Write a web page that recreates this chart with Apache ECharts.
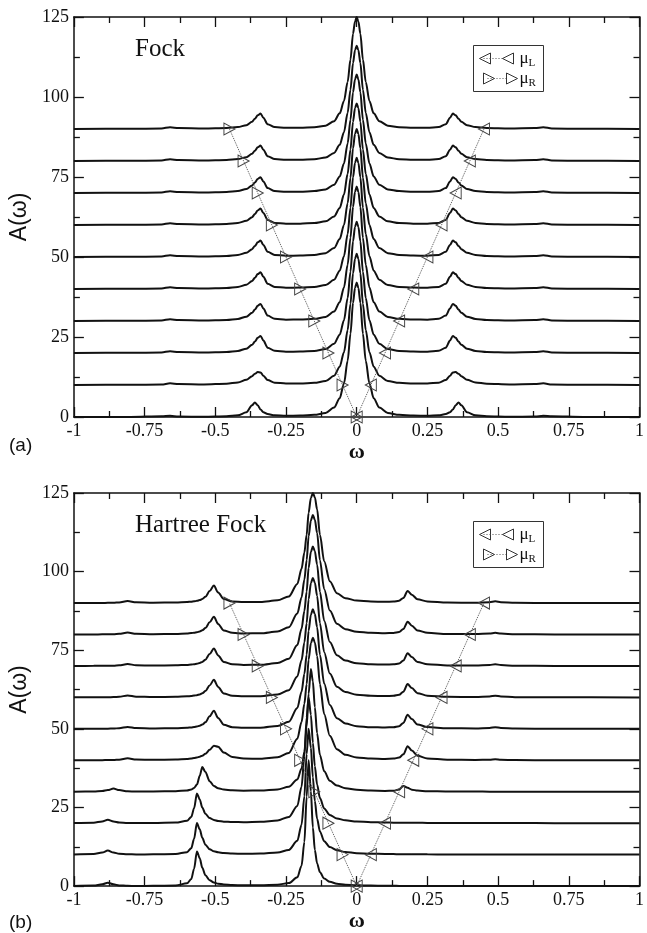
<!DOCTYPE html>
<html>
<head>
<meta charset="utf-8">
<title>A(ω) — Fock and Hartree Fock spectral functions</title>
<script src="https://cdn.jsdelivr.net/npm/echarts@6/dist/echarts.min.js"></script>
<style>
  html, body { margin: 0; padding: 0; background: #fff; }
  #chart { width: 647px; height: 933px; }
</style>
</head>
<body>
<div id="chart"></div>
<script>
// Bias offsets: each spectrum is lifted by its bias index (waterfall layout)
const offsets = [0, 10, 20, 30, 40, 50, 60, 70, 80, 90];

// Chemical potentials of the left / right leads for each bias
const muL = [0, 0.05, 0.1, 0.15, 0.2, 0.25, 0.3, 0.35, 0.4, 0.45];
const muR = [0, -0.05, -0.1, -0.15, -0.2, -0.25, -0.3, -0.35, -0.4, -0.45];

// Tick labels
const xTickLabels = ['-1', '-0.75', '-0.5', '-0.25', '0', '0.25', '0.5', '0.75', '1'];
const yTickLabels = ['0', '25', '50', '75', '100', '125'];

// Panel (a): Fock spectral functions A(ω), sampled on a shared ω grid
const fockOmega = [-1, -0.8, -0.69, -0.66, -0.63, -0.54, -0.46, -0.42, -0.39, -0.37, -0.36, -0.35, -0.34, -0.33, -0.315, -0.29, -0.25, -0.2, -0.15, -0.11, -0.08, -0.06, -0.045, -0.032, -0.022, -0.013, -0.006, 0, 0.006, 0.013, 0.022, 0.032, 0.045, 0.06, 0.08, 0.11, 0.15, 0.2, 0.25, 0.29, 0.315, 0.33, 0.34, 0.35, 0.36, 0.37, 0.39, 0.42, 0.46, 0.54, 0.63, 0.66, 0.69, 0.8, 1];
const fockSpectra = [
  [0.02, 0.03, 0.23, 0.36, 0.12, 0.11, 0.25, 0.54, 1.47, 3.64, 4.53, 3.66, 2.35, 1.52, 0.9, 0.53, 0.39, 0.45, 0.67, 1.26, 2.94, 5.88, 10.5, 17.6, 26.0, 35.7, 40.3, 42,
   40.3, 35.7, 26.0, 17.6, 10.5, 5.88, 2.94, 1.26, 0.67, 0.45, 0.39, 0.53, 0.9, 1.52, 2.35, 3.66, 4.53, 3.64, 1.47, 0.54, 0.25, 0.11, 0.12, 0.36, 0.23, 0.03, 0.02],
  [0.02, 0.05, 0.15, 0.51, 0.3, 0.18, 0.42, 0.81, 1.63, 2.76, 3.51, 4.06, 3.94, 2.87, 1.56, 0.74, 0.45, 0.46, 0.67, 1.23, 2.87, 5.74, 10.25, 17.2, 25.4, 34.9, 39.4, 41,
   39.4, 34.9, 25.4, 17.2, 10.25, 5.74, 2.87, 1.23, 0.67, 0.46, 0.45, 0.74, 1.56, 2.87, 3.94, 4.06, 3.51, 2.76, 1.63, 0.81, 0.42, 0.18, 0.3, 0.51, 0.15, 0.05, 0.02],
  [0.02, 0.05, 0.18, 0.55, 0.29, 0.18, 0.35, 0.66, 1.35, 2.54, 3.57, 4.75, 5.34, 3.89, 1.67, 0.67, 0.41, 0.44, 0.66, 1.23, 2.87, 5.74, 10.25, 17.2, 25.4, 34.9, 39.4, 41,
   39.4, 34.9, 25.4, 17.2, 10.25, 5.74, 2.87, 1.23, 0.66, 0.44, 0.41, 0.67, 1.67, 3.89, 5.34, 4.75, 3.57, 2.54, 1.35, 0.66, 0.35, 0.18, 0.29, 0.55, 0.18, 0.05, 0.02],
  [0.02, 0.05, 0.18, 0.55, 0.29, 0.18, 0.35, 0.66, 1.35, 2.54, 3.57, 4.75, 5.35, 3.9, 1.68, 0.68, 0.41, 0.45, 0.67, 1.26, 2.94, 5.88, 10.5, 17.6, 26.0, 35.7, 40.3, 42,
   40.3, 35.7, 26.0, 17.6, 10.5, 5.88, 2.94, 1.26, 0.67, 0.45, 0.41, 0.68, 1.68, 3.9, 5.35, 4.75, 3.57, 2.54, 1.35, 0.66, 0.35, 0.18, 0.29, 0.55, 0.18, 0.05, 0.02],
  [0.02, 0.05, 0.18, 0.55, 0.29, 0.18, 0.34, 0.65, 1.33, 2.5, 3.5, 4.66, 5.24, 3.82, 1.64, 0.66, 0.41, 0.44, 0.66, 1.23, 2.87, 5.74, 10.25, 17.2, 25.4, 34.9, 39.4, 41,
   39.4, 34.9, 25.4, 17.2, 10.25, 5.74, 2.87, 1.23, 0.66, 0.44, 0.41, 0.66, 1.64, 3.82, 5.24, 4.66, 3.5, 2.5, 1.33, 0.65, 0.34, 0.18, 0.29, 0.55, 0.18, 0.05, 0.02],
  [0.02, 0.05, 0.18, 0.54, 0.29, 0.18, 0.33, 0.64, 1.3, 2.45, 3.44, 4.58, 5.14, 3.75, 1.61, 0.66, 0.4, 0.43, 0.64, 1.2, 2.8, 5.6, 10.0, 16.8, 24.8, 34.0, 38.4, 40,
   38.4, 34.0, 24.8, 16.8, 10.0, 5.6, 2.8, 1.2, 0.64, 0.43, 0.4, 0.66, 1.61, 3.75, 5.14, 4.58, 3.44, 2.45, 1.3, 0.64, 0.33, 0.18, 0.29, 0.54, 0.18, 0.05, 0.02],
  [0.02, 0.05, 0.18, 0.54, 0.29, 0.17, 0.33, 0.63, 1.29, 2.44, 3.43, 4.57, 5.13, 3.74, 1.6, 0.65, 0.39, 0.41, 0.61, 1.14, 2.66, 5.32, 9.5, 16.0, 23.6, 32.3, 36.5, 38,
   36.5, 32.3, 23.6, 16.0, 9.5, 5.32, 2.66, 1.14, 0.61, 0.41, 0.39, 0.65, 1.6, 3.74, 5.13, 4.57, 3.43, 2.44, 1.29, 0.63, 0.33, 0.17, 0.29, 0.54, 0.18, 0.05, 0.02],
  [0.02, 0.05, 0.18, 0.54, 0.28, 0.16, 0.32, 0.6, 1.24, 2.34, 3.29, 4.38, 4.93, 3.59, 1.54, 0.62, 0.37, 0.39, 0.59, 1.11, 2.59, 5.18, 9.25, 15.5, 22.9, 31.5, 35.5, 37,
   35.5, 31.5, 22.9, 15.5, 9.25, 5.18, 2.59, 1.11, 0.59, 0.39, 0.37, 0.62, 1.54, 3.59, 4.93, 4.38, 3.29, 2.34, 1.24, 0.6, 0.32, 0.16, 0.28, 0.54, 0.18, 0.05, 0.02],
  [0.02, 0.05, 0.18, 0.54, 0.28, 0.16, 0.31, 0.59, 1.21, 2.29, 3.22, 4.29, 4.82, 3.51, 1.5, 0.6, 0.37, 0.38, 0.57, 1.08, 2.52, 5.04, 9.0, 15.1, 22.3, 30.6, 34.6, 36,
   34.6, 30.6, 22.3, 15.1, 9.0, 5.04, 2.52, 1.08, 0.57, 0.38, 0.37, 0.6, 1.5, 3.51, 4.82, 4.29, 3.22, 2.29, 1.21, 0.59, 0.31, 0.16, 0.28, 0.54, 0.18, 0.05, 0.02],
  [0.02, 0.05, 0.18, 0.54, 0.28, 0.15, 0.31, 0.59, 1.21, 2.29, 3.22, 4.29, 4.82, 3.51, 1.5, 0.6, 0.36, 0.38, 0.56, 1.05, 2.45, 4.9, 8.75, 14.7, 21.7, 29.8, 33.6, 35,
   33.6, 29.8, 21.7, 14.7, 8.75, 4.9, 2.45, 1.05, 0.56, 0.38, 0.36, 0.6, 1.5, 3.51, 4.82, 4.29, 3.22, 2.29, 1.21, 0.59, 0.31, 0.15, 0.28, 0.54, 0.18, 0.05, 0.02]
];

// Panel (b): Hartree Fock spectral functions A(ω), sampled on a shared ω grid
const hfOmega = [-1, -0.93, -0.9, -0.88, -0.86, -0.84, -0.81, -0.78, -0.72, -0.64, -0.6, -0.585, -0.575, -0.565, -0.555, -0.546, -0.535, -0.52, -0.505, -0.49, -0.47, -0.44, -0.4, -0.34, -0.28, -0.24, -0.21, -0.195, -0.185, -0.177, -0.17, -0.162, -0.155, -0.148, -0.14, -0.13, -0.115, -0.095, -0.07, -0.04, 0, 0.05, 0.1, 0.13, 0.15, 0.165, 0.18, 0.195, 0.215, 0.25, 0.32, 0.42, 0.47, 0.49, 0.51, 0.56, 0.7, 1];
const hfSpectra = [
  [0.04, 0.16, 0.56, 1.1, 0.56, 0.23, 0.09, 0.05, 0.08, 0.22, 0.87, 2.24, 5.54, 11.04, 8.84, 5.84, 3.44, 1.85, 1.15, 0.78, 0.51, 0.35, 0.24, 0.26,
   0.46, 0.96, 2.8, 6.5, 14, 28.4, 40, 30.2, 18.6, 11.5, 7.2, 4.4, 2.4, 1.35, 0.77, 0.46, 0.27, 0.16, 0.1, 0.09, 0.07, 0.06, 0.06, 0.05, 0.05, 0.04,
   0.03, 0.02, 0.02, 0.02, 0.02, 0.02, 0.01, 0.01],
  [0.05, 0.2, 0.67, 1.32, 0.67, 0.28, 0.12, 0.07, 0.09, 0.21, 0.79, 2.05, 5.05, 10.05, 8.05, 5.36, 3.16, 1.71, 1.07, 0.74, 0.51, 0.36, 0.29, 0.35,
   0.68, 1.5, 4.4, 9.5, 18.6, 32, 40, 34, 24.6, 17.1, 11.4, 7.4, 4.3, 2.4, 1.4, 0.84, 0.48, 0.3, 0.2, 0.17, 0.15, 0.14, 0.13, 0.12, 0.11, 0.09,
   0.06, 0.04, 0.03, 0.03, 0.03, 0.03, 0.02, 0.01],
  [0.05, 0.17, 0.57, 1.12, 0.57, 0.24, 0.1, 0.06, 0.09, 0.21, 0.76, 1.97, 4.77, 9.47, 7.57, 4.97, 2.98, 1.63, 1.03, 0.72, 0.5, 0.38, 0.32, 0.43,
   0.88, 2.0, 5.5, 11.6, 21.3, 33.6, 40, 34.5, 25.6, 18.1, 12.3, 8.0, 4.7, 2.6, 1.5, 0.92, 0.55, 0.33, 0.22, 0.18, 0.16, 0.15, 0.14, 0.13, 0.12, 0.1,
   0.07, 0.05, 0.04, 0.04, 0.04, 0.04, 0.02, 0.01],
  [0.04, 0.1, 0.22, 0.52, 1.02, 0.52, 0.16, 0.08, 0.09, 0.16, 0.42, 0.74, 1.21, 2.27, 5.07, 7.87, 6.28, 3.38, 1.83, 1.13, 0.71, 0.45, 0.35, 0.4,
   0.75, 1.56, 3.9, 7.4, 12.7, 20.7, 31.2, 39, 35.1, 26.9, 18.6, 11.7, 6.5, 3.5, 1.95, 1.12, 0.64, 0.38, 0.28, 0.33, 0.71, 1.87, 1.24, 0.67, 0.36, 0.19,
   0.1, 0.05, 0.04, 0.04, 0.04, 0.04, 0.03, 0.01],
  [0.02, 0.03, 0.05, 0.07, 0.1, 0.21, 0.62, 0.26, 0.15, 0.27, 0.45, 0.59, 0.72, 0.9, 1.15, 1.47, 2.08, 3.32, 4.65, 4.33, 2.46, 1.08, 0.58, 0.49,
   1.01, 2.36, 6.84, 12.2, 18.0, 24.2, 32.0, 37.2, 39, 37.45, 33.2, 24.2, 14.7, 7.8, 3.53, 1.75, 0.88, 0.55, 0.44, 0.54, 0.86, 1.9, 4.46, 3.1, 1.41, 0.59,
   0.18, 0.11, 0.2, 0.35, 0.2, 0.06, 0.02, 0.01],
  [0.02, 0.03, 0.05, 0.07, 0.1, 0.21, 0.62, 0.24, 0.12, 0.21, 0.35, 0.46, 0.58, 0.74, 0.99, 1.35, 2.08, 3.98, 5.79, 3.46, 1.31, 0.54, 0.35, 0.39,
   0.93, 2.28, 6.65, 11.8, 17.5, 23.6, 31.2, 36.3, 38, 36.5, 32.3, 23.6, 14.4, 7.6, 3.4, 1.7, 0.86, 0.54, 0.43, 0.53, 0.86, 1.9, 4.45, 3.1, 1.4, 0.58,
   0.18, 0.13, 0.3, 0.55, 0.29, 0.08, 0.02, 0.01],
  [0.02, 0.03, 0.05, 0.07, 0.1, 0.21, 0.62, 0.24, 0.12, 0.2, 0.34, 0.45, 0.57, 0.72, 0.96, 1.3, 2.01, 3.82, 5.59, 3.35, 1.27, 0.53, 0.34, 0.39,
   0.93, 2.28, 6.65, 11.8, 17.5, 23.6, 31.2, 36.3, 38, 36.5, 32.3, 23.6, 14.4, 7.6, 3.4, 1.7, 0.86, 0.54, 0.43, 0.52, 0.83, 1.82, 4.25, 2.96, 1.34, 0.56,
   0.18, 0.13, 0.3, 0.55, 0.29, 0.08, 0.02, 0.01],
  [0.02, 0.03, 0.05, 0.07, 0.1, 0.21, 0.62, 0.24, 0.12, 0.2, 0.34, 0.45, 0.57, 0.72, 0.96, 1.3, 2.01, 3.82, 5.59, 3.35, 1.27, 0.53, 0.34, 0.39,
   0.93, 2.28, 6.65, 11.8, 17.5, 23.6, 31.2, 36.3, 38, 36.5, 32.3, 23.6, 14.4, 7.6, 3.4, 1.7, 0.86, 0.54, 0.43, 0.51, 0.8, 1.74, 4.05, 2.82, 1.28, 0.54,
   0.17, 0.13, 0.3, 0.55, 0.29, 0.08, 0.02, 0.01],
  [0.02, 0.03, 0.05, 0.07, 0.1, 0.21, 0.62, 0.24, 0.12, 0.2, 0.34, 0.46, 0.58, 0.73, 0.98, 1.33, 2.04, 3.88, 5.65, 3.38, 1.28, 0.53, 0.34, 0.39,
   0.93, 2.28, 6.65, 11.8, 17.5, 23.6, 31.2, 36.3, 38, 36.5, 32.3, 23.6, 14.4, 7.6, 3.4, 1.7, 0.86, 0.54, 0.43, 0.51, 0.8, 1.74, 4.05, 2.82, 1.28, 0.54,
   0.17, 0.13, 0.3, 0.55, 0.29, 0.08, 0.02, 0.01],
  [0.02, 0.03, 0.05, 0.07, 0.1, 0.21, 0.62, 0.24, 0.12, 0.19, 0.33, 0.44, 0.55, 0.7, 0.94, 1.29, 2.0, 3.81, 5.58, 3.34, 1.26, 0.52, 0.33, 0.36,
   0.86, 2.1, 6.08, 10.9, 16.1, 21.7, 28.7, 33.4, 35, 33.65, 29.8, 21.7, 13.3, 6.95, 3.12, 1.57, 0.79, 0.5, 0.4, 0.47, 0.75, 1.63, 3.83, 2.67, 1.2, 0.5,
   0.16, 0.12, 0.29, 0.54, 0.29, 0.08, 0.02, 0.01]
];

// ---- styling ----
const SERIF = "'Liberation Serif', 'DejaVu Serif', serif";
const SANS = "'Liberation Sans', Arial, sans-serif";
const INK = '#111';
const X_MIN = -1, X_MAX = 1, X_STEP = 0.25;
const Y_MIN = 0, Y_MAX = 125, Y_STEP = 25;

const panels = [
  { grid: { left: 72, top: 17, width: 573, height: 400 }, omega: fockOmega, spectra: fockSpectra, title: 'Fock', tag: '(a)' },
  { grid: { left: 72, top: 493, width: 573, height: 401 }, omega: hfOmega, spectra: hfSpectra, title: 'Hartree Fock', tag: '(b)' }
];

function xAxisFor(gi, pos) {
  const bottom = pos === 'bottom';
  return {
    type: 'value', gridIndex: gi, position: pos, min: X_MIN, max: X_MAX, interval: X_STEP,
    axisLine: { show: true, onZero: false, lineStyle: { color: INK, width: 1.5 } },
    axisTick: { show: true, inside: true, length: 10, lineStyle: { color: INK, width: 1.3 } },
    minorTick: { show: true, splitNumber: 2, length: 6, lineStyle: { color: INK, width: 1.3 } },
    splitLine: { show: false },
    axisLabel: {
      show: bottom, margin: 5, color: INK, fontFamily: SERIF, fontSize: 18,
      showMinLabel: true, showMaxLabel: true,
      formatter: v => xTickLabels[Math.round((v - X_MIN) / X_STEP)]
    },
    name: bottom ? 'ω' : '', nameLocation: 'middle', nameGap: 15,
    nameTextStyle: { color: INK, fontFamily: SERIF, fontSize: 22, fontWeight: 'bold' }
  };
}

function yAxisFor(gi, pos) {
  const left = pos === 'left';
  return {
    type: 'value', gridIndex: gi, position: pos, min: Y_MIN, max: Y_MAX, interval: Y_STEP,
    axisLine: { show: true, onZero: false, lineStyle: { color: INK, width: 1.5 } },
    axisTick: { show: true, inside: true, length: 10, lineStyle: { color: INK, width: 1.3 } },
    minorTick: { show: true, splitNumber: 2, length: 6, lineStyle: { color: INK, width: 1.3 } },
    splitLine: { show: false },
    axisLabel: {
      show: left, margin: 5, color: INK, fontFamily: SERIF, fontSize: 18,
      formatter: v => yTickLabels[Math.round((v - Y_MIN) / Y_STEP)]
    },
    name: left ? 'A(ω)' : '', nameLocation: 'middle', nameGap: 39, nameRotate: 90,
    nameTextStyle: { color: INK, fontFamily: SANS, fontSize: 23 }
  };
}

const grids = [], xAxes = [], yAxes = [], series = [], graphics = [];

panels.forEach((p, gi) => {
  grids.push(p.grid);
  xAxes.push(xAxisFor(gi, 'bottom'));
  xAxes.push(xAxisFor(gi, 'top'));
  yAxes.push(yAxisFor(gi, 'left'));
  yAxes.push(yAxisFor(gi, 'right'));
  const xi = gi * 2, yi = gi * 2;

  // spectra, each lifted by its bias offset
  p.spectra.forEach((vals, k) => {
    series.push({
      type: 'line', name: p.title + ' ' + offsets[k], xAxisIndex: xi, yAxisIndex: yi,
      data: p.omega.map((w, i) => [w, offsets[k] + vals[i]]),
      showSymbol: false, smooth: 0.3, smoothMonotone: 'x', z: 2, silent: true,
      lineStyle: { color: INK, width: 2 }
    });
  });

  // lead chemical potentials, joined by dotted lines
  [[muL, 90, 'μL'], [muR, -90, 'μR']].forEach(([mu, rot, nm]) => {
    series.push({
      type: 'line', name: nm, xAxisIndex: xi, yAxisIndex: yi,
      data: mu.map((w, k) => [w, offsets[k]]),
      symbol: 'triangle', symbolSize: [12, 11], symbolRotate: rot, showAllSymbol: true,
      z: 4, silent: true,
      itemStyle: { color: 'rgba(255,255,255,0)', borderColor: '#444', borderWidth: 1 },
      lineStyle: { color: '#555', width: 1, type: 'dotted' }
    });
  });

  // legend box
  const lx = 473, ly = p.grid.top + 28;
  graphics.push({
    type: 'group', left: lx, top: ly, z: 10,
    children: [
      { type: 'rect', shape: { x: 0, y: 0, width: 70, height: 46 }, style: { fill: '#fff', stroke: '#333', lineWidth: 1 } },
      { type: 'polygon', shape: { points: [[6, 13], [17, 7.5], [17, 18.5]] }, style: { fill: 'none', stroke: '#333', lineWidth: 1 } },
      { type: 'line', shape: { x1: 10, y1: 13, x2: 29, y2: 13 }, style: { stroke: '#555', lineWidth: 1, lineDash: [1, 2] } },
      { type: 'polygon', shape: { points: [[29, 13], [40, 7.5], [40, 18.5]] }, style: { fill: 'none', stroke: '#333', lineWidth: 1 } },
      { type: 'text', x: 46, y: 13, style: { text: '{m|μ}{s|L}', verticalAlign: 'middle', rich: {
          m: { fontFamily: SERIF, fontSize: 17, fill: INK },
          s: { fontFamily: SERIF, fontSize: 11, fill: INK, padding: [9, 0, 0, 0] } } } },
      { type: 'polygon', shape: { points: [[21, 33], [10, 27.5], [10, 38.5]] }, style: { fill: 'none', stroke: '#333', lineWidth: 1 } },
      { type: 'line', shape: { x1: 14, y1: 33, x2: 33, y2: 33 }, style: { stroke: '#555', lineWidth: 1, lineDash: [1, 2] } },
      { type: 'polygon', shape: { points: [[44, 33], [33, 27.5], [33, 38.5]] }, style: { fill: 'none', stroke: '#333', lineWidth: 1 } },
      { type: 'text', x: 46, y: 33, style: { text: '{m|μ}{s|R}', verticalAlign: 'middle', rich: {
          m: { fontFamily: SERIF, fontSize: 17, fill: INK },
          s: { fontFamily: SERIF, fontSize: 11, fill: INK, padding: [9, 0, 0, 0] } } } }
    ]
  });

  // panel title and tag
  graphics.push({ type: 'text', left: 135, top: p.grid.top + 20, z: 10,
    style: { text: p.title, fontFamily: SERIF, fontSize: 25, fill: INK } });
  graphics.push({ type: 'text', left: 9, top: p.grid.top + p.grid.height + 19, z: 10,
    style: { text: p.tag, fontFamily: SANS, fontSize: 19, fill: INK } });
});

const chart = echarts.init(document.getElementById('chart'), null, { renderer: 'canvas' });
chart.setOption({
  backgroundColor: '#fff',
  animation: false,
  grid: grids,
  xAxis: xAxes,
  yAxis: yAxes,
  series: series,
  graphic: graphics
});
</script>
</body>
</html>
